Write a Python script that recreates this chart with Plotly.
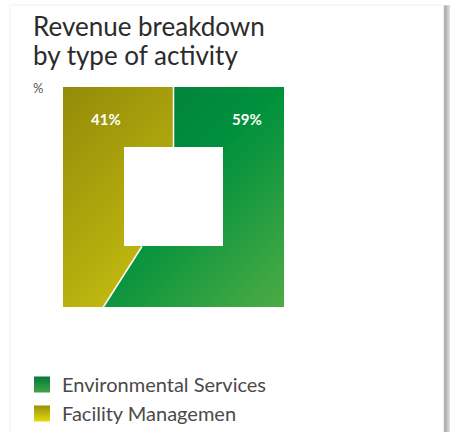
import numpy as np
import plotly.graph_objects as go

# Revenue share by activity (percent), clockwise from 12 o'clock
activities = ["Environmental Services", "Facility Managemen"]
shares = [59, 41]
value_labels = [f"{v}%" for v in shares]

# Diagonal gradient ramps (top-left -> bottom-right) for each activity
ramps = [
    [[0.0, "#05753a"], [0.5, "#00913d"], [1.0, "#4dab44"]],
    [[0.0, "#938a08"], [0.5, "#b8b00f"], [1.0, "#e4dd12"]],
]
swatch = [("#06793a", "#3fa445"), ("#9a9008", "#e2dc10")]

W, H = 452, 432
OUTER = 1.0
INNER = 0.45
FONT = "Lato"

# square ring grid in data units
nx, ny = 221, 220
xs = np.linspace(-1, 1, nx + 1)
ys = np.linspace(-1, 1, ny + 1)
xc = (xs[:-1] + xs[1:]) / 2
yc = (ys[:-1] + ys[1:]) / 2
X, Y = np.meshgrid(xc, yc)
cheb = np.maximum(np.abs(X), np.abs(Y))
ring = (cheb <= OUTER) & (cheb >= INNER)
frac = (np.degrees(np.arctan2(X, Y)) % 360) / 360.0
diag = (X - Y + 2) / 4.0

bounds = np.concatenate([[0], np.cumsum(shares) / np.sum(shares)])

fig = go.Figure()

for i, name in enumerate(activities):
    mask = ring & (frac >= bounds[i]) & (frac < bounds[i + 1])
    z = np.where(mask, diag, np.nan)
    fig.add_trace(go.Heatmap(
        x=xc, y=yc, z=z, colorscale=ramps[i], zmin=0, zmax=1,
        showscale=False, hoverinfo="skip", zsmooth=False,
    ))

# white separators along the slice boundaries
for f in bounds[:-1]:
    dx, dy = np.sin(2 * np.pi * f), np.cos(2 * np.pi * f)
    m = max(abs(dx), abs(dy))
    fig.add_trace(go.Scatter(
        x=[INNER * dx / m, OUTER * dx / m], y=[INNER * dy / m, OUTER * dy / m],
        mode="lines", line=dict(color="white", width=1.5),
        hoverinfo="skip", showlegend=False,
    ))

# legend entries
for i, name in enumerate(activities):
    fig.add_trace(go.Scatter(
        x=[None], y=[None], mode="markers", name=name,
        marker=dict(symbol="square", size=16, color=swatch[i][0],
                    gradient=dict(type="vertical", color=swatch[i][1])),
    ))

annotations = [
    dict(text="Revenue breakdown", x=31 / W, y=1 - 44 / H, xref="paper", yref="paper",
         xanchor="left", yanchor="bottom", showarrow=False,
         font=dict(family=FONT, size=26, color="#2b2b2b")),
    dict(text="by type of activity", x=31 / W, y=1 - 73 / H, xref="paper", yref="paper",
         xanchor="left", yanchor="bottom", showarrow=False,
         font=dict(family=FONT, size=26, color="#2b2b2b")),
    dict(text="%", x=31 / W, y=1 - 78 / H, xref="paper", yref="paper",
         xanchor="left", yanchor="top", showarrow=False,
         font=dict(family=FONT, size=13, color="#555555")),
]

# value labels in the top band of each slice
band_mid = (OUTER + INNER) / 2 - 0.015
for i, lab in enumerate(value_labels):
    lx = 0.667 if i == 0 else -0.61
    annotations.append(dict(
        x=lx, y=band_mid, xref="x", yref="y", text=f"<b>{lab}</b>",
        showarrow=False, font=dict(family=FONT, size=15, color="white"),
    ))

# card with a soft shadow on the right
shapes = []
for k, c in enumerate(["#dcdcdc", "#c8c8c8", "#b8b8b8", "#adadad"]):
    shapes.append(dict(type="rect", xref="paper", yref="paper",
                       x0=10 / W, x1=(450 - k * 1.5) / W,
                       y0=-0.1, y1=1 - (5 + k * 0.5) / H,
                       fillcolor=c, line=dict(width=0), layer="below"))
shapes.append(dict(type="rect", xref="paper", yref="paper",
                   x0=10 / W, x1=443.5 / W, y0=-0.1, y1=1 - 5 / H,
                   fillcolor="white", line=dict(color="#f0f0f0", width=1),
                   layer="below"))

fig.update_layout(
    width=W, height=H,
    margin=dict(l=0, r=0, t=0, b=0, autoexpand=False),
    paper_bgcolor="white", plot_bgcolor="rgba(0,0,0,0)",
    xaxis=dict(domain=[63 / W, 284 / W], range=[-1, 1], visible=False, fixedrange=True),
    yaxis=dict(domain=[1 - 307 / H, 1 - 87 / H], range=[-1, 1], visible=False, fixedrange=True),
    shapes=shapes, annotations=annotations,
    showlegend=True,
    legend=dict(x=22 / W, y=1 - 365 / H, xanchor="left", yanchor="top",
                bgcolor="rgba(0,0,0,0)", font=dict(family=FONT, size=20, color="#4a4a4a"),
                tracegroupgap=0, itemclick=False, itemdoubleclick=False),
)

fig.write_html("out.html")
